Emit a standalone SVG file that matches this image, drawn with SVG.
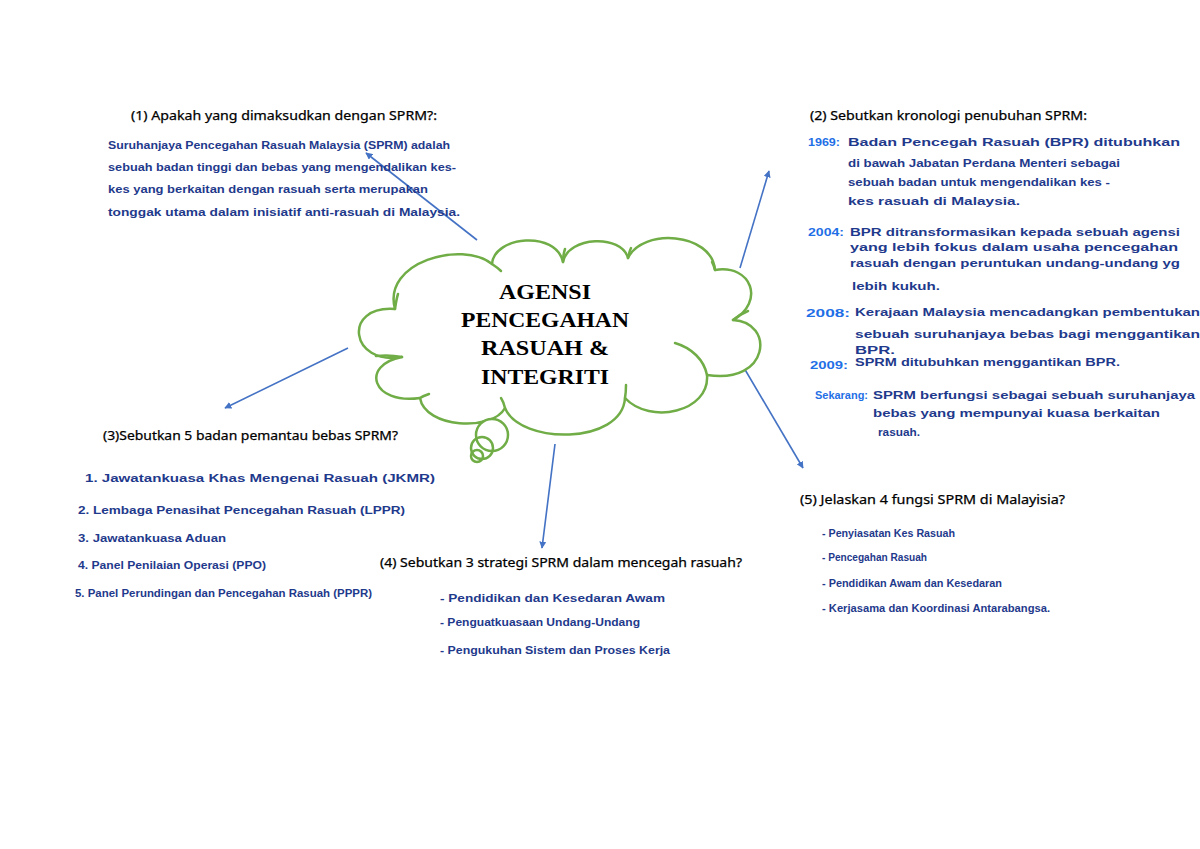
<svg xmlns="http://www.w3.org/2000/svg" width="1200" height="849" viewBox="0 0 1200 849">
<style>
.q{font-family:"Noto Sans","Open Sans","Liberation Sans",sans-serif;font-size:13px;fill:#000;stroke:#000;stroke-width:0.25}
.h{font-family:"Liberation Sans","DejaVu Sans",sans-serif;font-size:10.5px;font-weight:bold;fill:#1f3a8c}
.y{font-family:"Liberation Sans","DejaVu Sans",sans-serif;font-size:10.5px;font-weight:bold;fill:#1f6fe6}
.t{font-family:"Liberation Serif","DejaVu Serif",serif;font-size:20px;font-weight:bold;fill:#000;text-anchor:middle}
.cl{fill:#fff;stroke:#70ad47;stroke-width:2.5;stroke-linecap:round;stroke-linejoin:round}
.cs{fill:none;stroke:#70ad47;stroke-width:2.5;stroke-linecap:round}
.ar{fill:none;stroke:#4472c4;stroke-width:1.6;marker-end:url(#ah)}
</style>
<defs>
<marker id="ah" viewBox="0 0 10 10" refX="9" refY="5" markerWidth="7" markerHeight="7" orient="auto-start-reverse" markerUnits="userSpaceOnUse">
<path d="M0,0 L10,5 L0,10 z" fill="#4472c4"/>
</marker>
</defs>
<rect width="1200" height="849" fill="#fff"/>

<g id="connectors">
<line class="ar" x1="477" y1="240" x2="366" y2="153"/>
<line class="ar" x1="740" y1="268" x2="769" y2="171"/>
<line class="ar" x1="348" y1="348" x2="225" y2="408"/>
<line class="ar" x1="555" y1="444" x2="542" y2="548"/>
<line class="ar" x1="737" y1="356" x2="803" y2="468"/>
</g>

<g id="center">
<path class="cl" d="M402,357 C350,366 342,305 395,309 C382,262 462,240 492,264 C494,236 556,230 563,262 C568,236 622,234 628,258 C642,228 712,232 715,270 C752,264 765,302 733,320 C775,322 770,385 707,375 C710,412 650,425 625,398 C622,445 520,445 505,408 C492,432 425,428 420,398 C372,405 360,365 402,357 Z"/>
<path class="cs" d="M395,309 C396,302 397,297 398,294"/>
<path class="cs" d="M492,264 C495,266 498,268 501,271"/>
<path class="cs" d="M563,262 C563,256 564,252 565,249"/>
<path class="cs" d="M628,258 C629,253 630,250 631,248"/>
<path class="cs" d="M715,270 C714,266 713,264 712,262"/>
<path class="cs" d="M733,320 C738,316 743,313 748,311"/>
<path class="cs" d="M675,343 C692,348 704,360 707,375"/>
<path class="cs" d="M625,398 C626,392 626,389 626,385"/>
<path class="cs" d="M505,408 C504,404 503,401 501,398"/>
<path class="cs" d="M420,398 C423,396 426,395 429,394"/>
<path class="cs" d="M402,357 C392,355 384,355 376,356"/>
<circle class="cl" cx="492" cy="435" r="16"/>
<circle class="cs" cx="482" cy="448" r="11"/>
<circle class="cs" cx="477" cy="456" r="6"/>
<text class="t" x="545" y="299" textLength="92" lengthAdjust="spacingAndGlyphs">AGENSI</text>
<text class="t" x="545" y="327" textLength="168" lengthAdjust="spacingAndGlyphs">PENCEGAHAN</text>
<text class="t" x="545" y="355" textLength="128" lengthAdjust="spacingAndGlyphs">RASUAH &amp;</text>
<text class="t" x="545" y="384" textLength="128" lengthAdjust="spacingAndGlyphs">INTEGRITI</text>
</g>

<g id="q1">
<text class="q" x="131" y="120" textLength="306" lengthAdjust="spacingAndGlyphs">(1)  Apakah yang dimaksudkan dengan SPRM?:</text>
<text class="h" x="108" y="149" textLength="342" lengthAdjust="spacingAndGlyphs">Suruhanjaya Pencegahan Rasuah Malaysia (SPRM) adalah</text>
<text class="h" x="108" y="171" textLength="348" lengthAdjust="spacingAndGlyphs">sebuah badan tinggi dan bebas yang mengendalikan kes-</text>
<text class="h" x="108" y="193" textLength="320" lengthAdjust="spacingAndGlyphs">kes yang berkaitan dengan rasuah  serta merupakan</text>
<text class="h" x="108" y="216" textLength="352" lengthAdjust="spacingAndGlyphs">tonggak utama dalam inisiatif anti-rasuah di Malaysia.</text>
</g>

<g id="q2">
<text class="q" x="810" y="120" textLength="277" lengthAdjust="spacingAndGlyphs">(2)  Sebutkan kronologi penubuhan SPRM:</text>
<text class="y" x="808" y="146" textLength="32" lengthAdjust="spacingAndGlyphs">1969:</text>
<text class="h" x="848" y="146" textLength="332" lengthAdjust="spacingAndGlyphs">Badan Pencegah Rasuah (BPR) ditubuhkan</text>
<text class="h" x="848" y="167" textLength="272" lengthAdjust="spacingAndGlyphs">di bawah Jabatan Perdana Menteri sebagai</text>
<text class="h" x="848" y="186" textLength="262" lengthAdjust="spacingAndGlyphs">sebuah badan untuk mengendalikan kes -</text>
<text class="h" x="848" y="205" textLength="172" lengthAdjust="spacingAndGlyphs">kes rasuah di Malaysia.</text>
<text class="y" x="808" y="236" textLength="36" lengthAdjust="spacingAndGlyphs">2004:</text>
<text class="h" x="850" y="236" textLength="330" lengthAdjust="spacingAndGlyphs">BPR ditransformasikan kepada sebuah agensi</text>
<text class="h" x="850" y="251" textLength="328" lengthAdjust="spacingAndGlyphs">yang lebih fokus dalam usaha pencegahan</text>
<text class="h" x="850" y="267" textLength="330" lengthAdjust="spacingAndGlyphs">rasuah  dengan peruntukan undang-undang yg</text>
<text class="h" x="852" y="290" textLength="88" lengthAdjust="spacingAndGlyphs">lebih kukuh.</text>
<text class="y" x="806" y="317" textLength="44" lengthAdjust="spacingAndGlyphs">2008:</text>
<text class="h" x="855" y="316" textLength="345" lengthAdjust="spacingAndGlyphs">Kerajaan Malaysia mencadangkan pembentukan</text>
<text class="h" x="855" y="338" textLength="345" lengthAdjust="spacingAndGlyphs">sebuah suruhanjaya bebas bagi menggantikan</text>
<text class="h" x="855" y="354" textLength="40" lengthAdjust="spacingAndGlyphs">BPR.</text>
<text class="y" x="810" y="369" textLength="38" lengthAdjust="spacingAndGlyphs">2009:</text>
<text class="h" x="855" y="366" textLength="265" lengthAdjust="spacingAndGlyphs">SPRM ditubuhkan menggantikan BPR.</text>
<text class="y" x="815" y="399" textLength="53" lengthAdjust="spacingAndGlyphs">Sekarang:</text>
<text class="h" x="873" y="399" textLength="322" lengthAdjust="spacingAndGlyphs">SPRM berfungsi sebagai sebuah suruhanjaya</text>
<text class="h" x="873" y="417" textLength="287" lengthAdjust="spacingAndGlyphs">bebas yang mempunyai kuasa berkaitan</text>
<text class="h" x="878" y="436" textLength="42" lengthAdjust="spacingAndGlyphs">rasuah.</text>
</g>

<g id="q3">
<text class="q" x="103" y="440" textLength="295" lengthAdjust="spacingAndGlyphs">(3)Sebutkan 5 badan pemantau bebas SPRM?</text>
<text class="h" x="85" y="482" textLength="350" lengthAdjust="spacingAndGlyphs">1. Jawatankuasa Khas Mengenai Rasuah (JKMR)</text>
<text class="h" x="78" y="514" textLength="327" lengthAdjust="spacingAndGlyphs">2. Lembaga Penasihat Pencegahan Rasuah (LPPR)</text>
<text class="h" x="78" y="542" textLength="148" lengthAdjust="spacingAndGlyphs">3. Jawatankuasa Aduan</text>
<text class="h" x="78" y="569" textLength="188" lengthAdjust="spacingAndGlyphs">4. Panel Penilaian Operasi (PPO)</text>
<text class="h" x="75" y="597" textLength="297" lengthAdjust="spacingAndGlyphs">5. Panel Perundingan dan Pencegahan Rasuah (PPPR)</text>
</g>

<g id="q4">
<text class="q" x="380" y="567" textLength="362" lengthAdjust="spacingAndGlyphs">(4)  Sebutkan 3 strategi SPRM dalam mencegah rasuah?</text>
<text class="h" x="440" y="602" textLength="225" lengthAdjust="spacingAndGlyphs">- Pendidikan  dan  Kesedaran  Awam</text>
<text class="h" x="440" y="626" textLength="200" lengthAdjust="spacingAndGlyphs">- Penguatkuasaan  Undang-Undang</text>
<text class="h" x="440" y="654" textLength="230" lengthAdjust="spacingAndGlyphs">- Pengukuhan  Sistem  dan  Proses  Kerja</text>
</g>

<g id="q5">
<text class="q" x="800" y="504" textLength="265" lengthAdjust="spacingAndGlyphs">(5)  Jelaskan 4 fungsi SPRM di Malayisia?</text>
<text class="h" x="822" y="537" textLength="133" lengthAdjust="spacingAndGlyphs">- Penyiasatan  Kes  Rasuah</text>
<text class="h" x="822" y="561" textLength="105" lengthAdjust="spacingAndGlyphs">- Pencegahan  Rasuah</text>
<text class="h" x="822" y="587" textLength="180" lengthAdjust="spacingAndGlyphs">- Pendidikan  Awam  dan  Kesedaran</text>
<text class="h" x="822" y="612" textLength="228" lengthAdjust="spacingAndGlyphs">- Kerjasama  dan  Koordinasi  Antarabangsa.</text>
</g>
</svg>
